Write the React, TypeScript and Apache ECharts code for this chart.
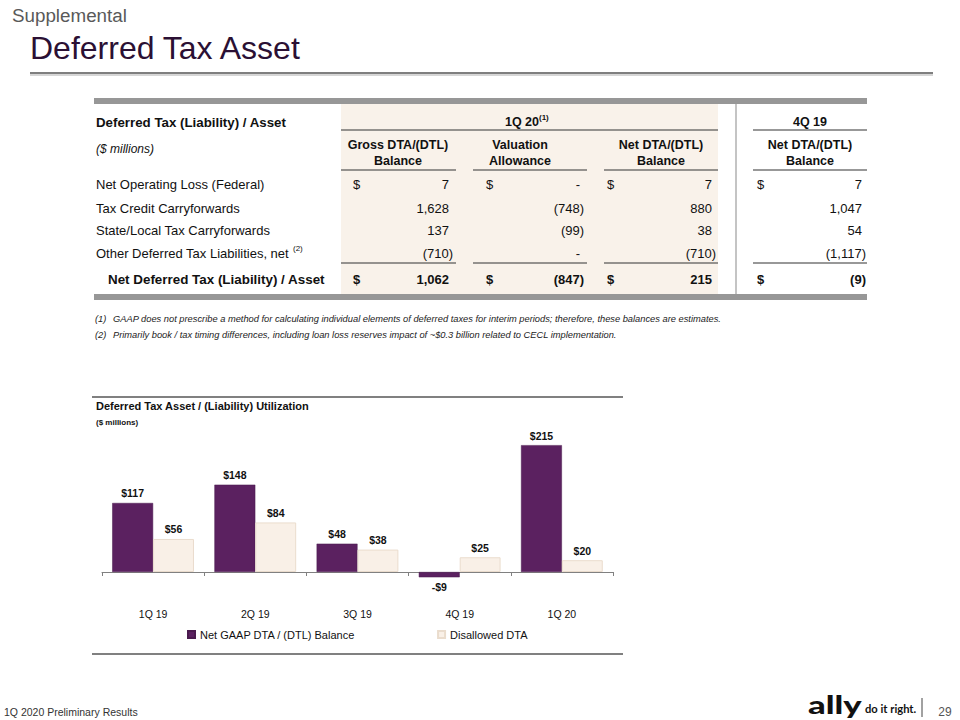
import React, { useEffect, useRef } from "react";
import * as echarts from "echarts";

// ---------- Chart data ----------
const quarters = ["1Q 19", "2Q 19", "3Q 19", "4Q 19", "1Q 20"];
const netGaapDta = [117, 148, 48, -9, 215];
const disallowedDta = [56, 84, 38, 25, 20];
const seriesNames = ["Net GAAP DTA / (DTL) Balance", "Disallowed DTA"];

// ---------- Table data ----------
const rowLabels = [
  "Net Operating Loss (Federal)",
  "Tax Credit Carryforwards",
  "State/Local Tax Carryforwards",
  "Other Deferred Tax Liabilities, net",
];
const grossBalance = ["7", "1,628", "137", "(710)"];
const valuationAllowance = ["-", "(748)", "(99)", "-"];
const netBalance1Q20 = ["7", "880", "38", "(710)"];
const netBalance4Q19 = ["7", "1,047", "54", "(1,117)"];
const totals = ["1,062", "(847)", "215", "(9)"];
const totalLabel = "Net Deferred Tax (Liability) / Asset";
const columnHeaders = [
  ["Gross DTA/(DTL)", "Balance"],
  ["Valuation", "Allowance"],
  ["Net DTA/(DTL)", "Balance"],
  ["Net DTA/(DTL)", "Balance"],
];
const footnotes = [
  "GAAP does not prescribe a method for calculating individual elements of deferred taxes for interim periods; therefore, these balances are estimates.",
  "Primarily book / tax timing differences, including loan loss reserves impact of ~$0.3 billion related to CECL implementation.",
];

const FF = '"Liberation Sans", Arial, Helvetica, sans-serif';

function txt(
  x: number,
  y: number,
  text: string,
  o: { size?: number; weight?: string | number; italic?: boolean; color?: string; align?: string; va?: string; family?: string; scaleX?: number } = {}
) {
  const size = o.size ?? 13;
  const weight = o.weight ?? "normal";
  const font = `${o.italic ? "italic " : ""}${weight} ${size}px ${o.family ?? FF}`;
  const align = o.align ?? "left";
  const va = o.va ?? "middle";
  const el: any = {
    type: "text",
    x,
    y,
    silent: true,
    style: {
      text,
      font,
      fill: o.color ?? "#111",
      align,
      verticalAlign: va,
      textAlign: align,
      textVerticalAlign: va,
    },
  };
  if (o.scaleX) el.scaleX = o.scaleX;
  return el;
}
function line(x1: number, y1: number, x2: number, y2: number, stroke = "#333", lineWidth = 1) {
  return { type: "line", silent: true, shape: { x1, y1, x2, y2 }, style: { stroke, lineWidth } };
}
function rect(x: number, y: number, width: number, height: number, fill: string) {
  return { type: "rect", silent: true, shape: { x, y, width, height }, style: { fill } };
}

export default function App() {
  const ref = useRef<HTMLDivElement>(null);

  useEffect(() => {
    if (!ref.current) return;
    const chart = echarts.init(ref.current, undefined, { renderer: "svg", width: 960, height: 720 });

    const cols = [
      { dollarX: 353, rightX: 449, x1: 341, x2: 456, cx: 398 },
      { dollarX: 486, rightX: 580, x1: 473, x2: 587, cx: 520 },
      { dollarX: 607, rightX: 712, x1: 604, x2: 718, cx: 661 },
      { dollarX: 757, rightX: 862, x1: 753, x2: 867, cx: 810 },
    ];
    const colValues = [grossBalance, valuationAllowance, netBalance1Q20, netBalance4Q19];
    const rowY = [184, 208, 230, 253];
    const totalY = 279;

    const g: any[] = [];
    // slide header
    g.push(txt(12, 15, "Supplemental", { size: 18.8, color: "#595959" }));
    g.push(txt(30, 48, "Deferred Tax Asset", { size: 32, color: "#2b1034" }));
    g.push(line(30, 75, 933, 75, "#d6d6d6", 2));
    g.push(line(30, 73, 933, 73, "#7f7f7f", 2));

    // table backgrounds / frame
    g.push(rect(341, 104, 377, 190, "#f9f2ea"));
    g.push(rect(94, 98, 773, 6, "#979797"));
    g.push(rect(94, 294, 773, 6, "#979797"));
    g.push(line(736, 104, 736, 294, "#c4c4c4", 2));

    // table headers
    g.push(txt(96, 122, "Deferred Tax (Liability) / Asset", { size: 13.3, weight: "bold" }));
    g.push(txt(96, 149, "($ millions)", { size: 12, italic: true }));
    g.push(txt(539, 122, "1Q 20", { size: 12.5, weight: "bold", align: "right" }));
    g.push(txt(539, 117, "(1)", { size: 8, weight: "bold" }));
    g.push(txt(810, 122, "4Q 19", { size: 12.5, weight: "bold", align: "center" }));
    g.push(line(341, 130, 718, 130, "#333", 1.2));
    g.push(line(753, 130, 867, 130, "#333", 1.2));
    cols.forEach((c, i) => {
      g.push(txt(c.cx, 145, columnHeaders[i][0], { size: 12.5, weight: "bold", align: "center" }));
      g.push(txt(c.cx, 161, columnHeaders[i][1], { size: 12.5, weight: "bold", align: "center" }));
      g.push(line(c.x1, 170, c.x2, 170, "#333", 1.2));
      g.push(line(c.x1, 263, c.x2, 263, "#333", 1.2));
    });

    // table body
    rowLabels.forEach((lab, r) => {
      g.push(txt(96, rowY[r], lab, { size: 13 }));
    });
    g.push(txt(293, 248, "(2)", { size: 8 }));
    cols.forEach((c, i) => {
      g.push(txt(c.dollarX, rowY[0], "$", { size: 13 }));
      colValues[i].forEach((v, r) => {
        const x = v.endsWith(")") ? c.rightX + 4 : c.rightX;
        g.push(txt(x, rowY[r], v, { size: 13, align: "right" }));
      });
      g.push(txt(c.dollarX, totalY, "$", { size: 13, weight: "bold" }));
      const tv = totals[i];
      g.push(txt(tv.endsWith(")") ? c.rightX + 4 : c.rightX, totalY, tv, { size: 13, weight: "bold", align: "right" }));
    });
    g.push(txt(108, totalY, totalLabel, { size: 13.4, weight: "bold" }));

    // footnotes
    footnotes.forEach((f, i) => {
      const y = 319 + i * 16;
      g.push(txt(95, y, `(${i + 1})`, { size: 9.3, italic: true, color: "#222" }));
      g.push(txt(113, y, f, { size: 9.3, italic: true, color: "#222" }));
    });

    // chart frame
    g.push(line(92, 397, 623, 397, "#808080", 2));
    g.push(line(92, 654, 623, 654, "#808080", 2));
    g.push(txt(96, 406, "Deferred Tax Asset / (Liability) Utilization", { size: 11, weight: "bold" }));
    g.push(txt(96, 422, "($ millions)", { size: 8, weight: "bold" }));

    // footer
    g.push(txt(4, 712, "1Q 2020 Preliminary Results", { size: 10.5, color: "#333" }));
    g.push(txt(808, 704, "ally", { size: 25, weight: 900, color: "#111", family: "Lato, Inter, sans-serif", scaleX: 1.38 }));
    g.push(txt(865, 708, "do it right.", { size: 11.2, weight: "bold", color: "#111", family: "Lato, Inter, sans-serif" }));
    g.push(line(922, 698, 922, 717, "#444", 1));
    g.push(txt(945, 712, "29", { size: 12, color: "#555", align: "center" }));

    const fmt = (p: any) => {
      const v = Number(p.value);
      return v < 0 ? `-$${Math.abs(v)}` : `$${v}`;
    };
    const labelStyle = {
      show: true,
      position: "top",
      distance: 4,
      formatter: fmt,
      fontFamily: FF,
      fontWeight: "bold",
      fontSize: 10.5,
      color: "#111",
    };
    const toData = (arr: number[]) =>
      arr.map((v) => (v < 0 ? { value: v, label: { position: "bottom" } } : v));

    chart.setOption({
      animation: false,
      textStyle: { fontFamily: FF },
      grid: { left: 102, width: 511, top: 424.5, height: 171.1, containLabel: false },
      legend: {
        left: 187,
        top: 629,
        padding: 0,
        itemWidth: 7,
        itemHeight: 7,
        itemGap: 82,
        icon: "rect",
        data: seriesNames,
        textStyle: { fontSize: 11, color: "#111", fontFamily: FF },
      },
      xAxis: {
        type: "category",
        data: quarters,
        axisLine: { onZero: true, lineStyle: { color: "#808080", width: 1 } },
        axisTick: { show: true, length: 4, lineStyle: { color: "#808080" } },
        axisLabel: { margin: 13, fontSize: 10.5, color: "#111", fontFamily: FF },
      },
      yAxis: { type: "value", min: -40, max: 250, show: false },
      series: [
        {
          name: seriesNames[0],
          type: "bar",
          data: toData(netGaapDta),
          barGap: "0%",
          barCategoryGap: "20%",
          itemStyle: { color: "#5b2160", borderColor: "#4a1a4e", borderWidth: 0.5 },
          label: labelStyle,
        },
        {
          name: seriesNames[1],
          type: "bar",
          data: toData(disallowedDta),
          barGap: "0%",
          barCategoryGap: "20%",
          itemStyle: { color: "#f9f0e7", borderColor: "#eadccd", borderWidth: 1 },
          label: labelStyle,
        },
      ],
      graphic: { elements: g },
    });

    return () => chart.dispose();
  }, []);

  return (
    <div
      ref={ref}
      style={{ position: "absolute", left: 0, top: 0, width: 960, height: 720, background: "#fff" }}
    />
  );
}
